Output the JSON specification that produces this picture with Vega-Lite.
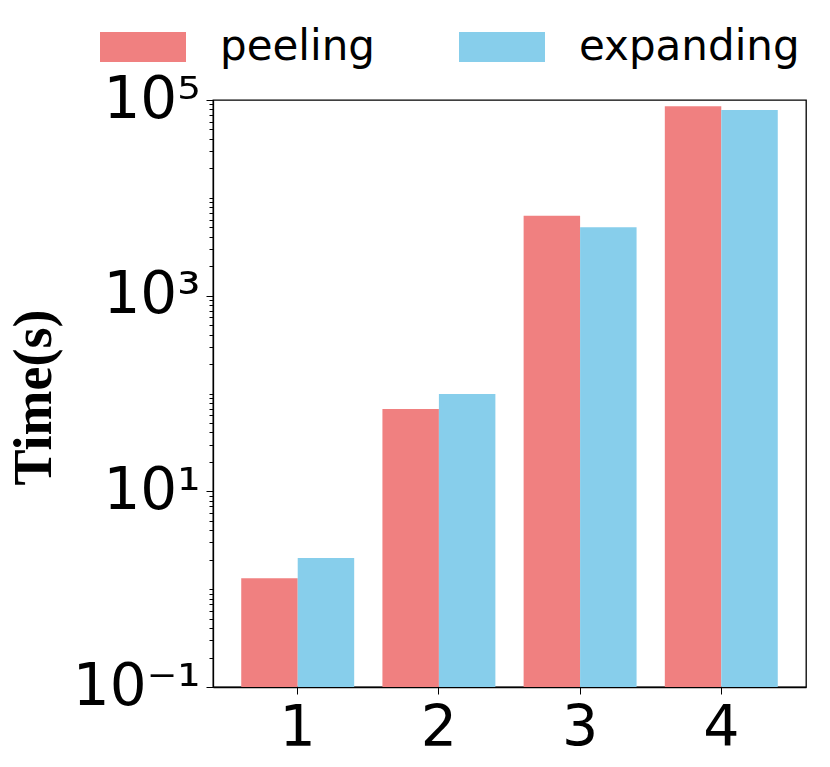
{
  "$schema": "https://vega.github.io/schema/vega-lite/v6.json",
  "width": 593,
  "height": 587,
  "autosize": {"type": "none"},
  "padding": {"left": 213, "top": 100, "right": 24, "bottom": 80},
  "background": "white",
  "data": {
    "values": [
      {"n": "1", "method": "peeling", "time": 1.29},
      {"n": "1", "method": "expanding", "time": 2.08},
      {"n": "2", "method": "peeling", "time": 69.4},
      {"n": "2", "method": "expanding", "time": 98.9},
      {"n": "3", "method": "peeling", "time": 6570},
      {"n": "3", "method": "expanding", "time": 5000},
      {"n": "4", "method": "peeling", "time": 86270},
      {"n": "4", "method": "expanding", "time": 79070}
    ]
  },
  "mark": {"type": "bar", "strokeWidth": 0},
  "encoding": {
    "x": {
      "field": "n",
      "type": "ordinal",
      "scale": {"paddingInner": 0.2, "paddingOuter": 0.2},
      "axis": {
        "title": null,
        "labelAngle": 0,
        "labelFontSize": 57,
        "labelPadding": 6,
        "tickSize": 7,
        "tickColor": "black",
        "domainColor": "black",
        "domainWidth": 1.3,
        "labelColor": "black"
      }
    },
    "xOffset": {"field": "method", "type": "nominal", "sort": ["peeling", "expanding"], "scale": {"paddingInner": 0}},
    "y": {
      "field": "time",
      "type": "quantitative",
      "stack": null,
      "scale": {"type": "log", "domain": [0.1, 100000]},
      "axis": {
        "title": "Time(s)",
        "titleFont": "Liberation Serif",
        "titleFontWeight": "bold",
        "titleFontSize": 54,
        "titleColor": "black",
        "titleAngle": -90,
        "titleAlign": "center",
        "titleBaseline": "alphabetic",
        "titleX": -163,
        "titleY": 297,
        "values": [0.1, 0.2, 0.3, 0.4, 0.5, 0.6, 0.7, 0.8, 0.9, 1, 2, 3, 4, 5, 6, 7, 8, 9, 10, 20, 30, 40, 50, 60, 70, 80, 90, 100, 200, 300, 400, 500, 600, 700, 800, 900, 1000, 2000, 3000, 4000, 5000, 6000, 7000, 8000, 9000, 10000, 20000, 30000, 40000, 50000, 60000, 70000, 80000, 90000, 100000],
        "labelExpr": "datum.value == 0.1 ? '10⁻¹' : datum.value == 10 ? '10¹' : datum.value == 1000 ? '10³' : datum.value == 100000 ? '10⁵' : ''",
        "labelFontSize": 58,
        "labelColor": "black",
        "labelPadding": 6,
        "labelBaseline": "middle",
        "labelFlush": false,
        "labelOverlap": false,
        "tickSize": {"condition": {"test": "datum.value == 0.1 || datum.value == 10 || datum.value == 1000 || datum.value == 100000", "value": 7}, "value": 4},
        "tickColor": "black",
        "domainColor": "black",
        "domainWidth": 1.3,
        "grid": false
      }
    },
    "color": {
      "field": "method",
      "type": "nominal",
      "sort": ["peeling", "expanding"],
      "scale": {"domain": ["peeling", "expanding"], "range": ["#F08080", "#87CEEB"]},
      "legend": {
        "title": null,
        "orient": "none",
        "direction": "horizontal",
        "legendX": -113,
        "legendY": -96,
        "padding": 0,
        "symbolType": "M-1,-0.35L1,-0.35L1,0.35L-1,0.35Z",
        "symbolSize": 7396,
        "symbolStrokeWidth": 0,
        "labelFontSize": 42,
        "labelColor": "black",
        "labelOffset": 34,
        "columnPadding": 84,
        "labelLimit": 400
      }
    }
  },
  "config": {
    "font": "DejaVu Sans",
    "view": {"stroke": "black", "strokeWidth": 1.3}
  }
}
